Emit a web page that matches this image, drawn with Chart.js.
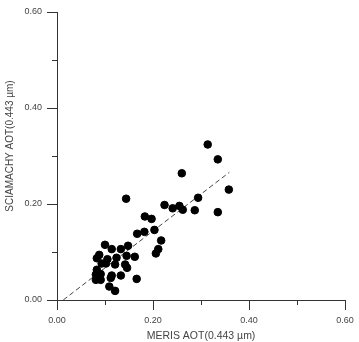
<!DOCTYPE html>
<html>
<head>
<meta charset="utf-8">
<script src="https://cdn.jsdelivr.net/npm/chart.js@4/dist/chart.umd.min.js"></script>
<style>
  html, body { margin: 0; padding: 0; background: #fff; }
  #wrap { width: 359px; height: 342px; }
</style>
</head>
<body>
<div id="wrap"><canvas id="scatterChart"></canvas></div>
<script>
// MERIS vs SCIAMACHY AOT at 0.443 um
const merisAot = [0.260, 0.144, 0.294, 0.224, 0.241, 0.255, 0.262, 0.287, 0.183, 0.197,
    0.203, 0.182, 0.167, 0.217, 0.211, 0.206, 0.100, 0.114, 0.133, 0.148,
    0.088, 0.083, 0.105, 0.124, 0.145, 0.162, 0.093, 0.102, 0.121, 0.142,
    0.146, 0.083, 0.081, 0.091, 0.081, 0.091, 0.114, 0.112, 0.133, 0.166,
    0.109, 0.121, 0.314, 0.335, 0.358, 0.335];
const sciaAot = [0.264, 0.211, 0.213, 0.198, 0.191, 0.196, 0.188, 0.187, 0.174, 0.169,
    0.146, 0.142, 0.138, 0.124, 0.106, 0.097, 0.115, 0.106, 0.106, 0.113,
    0.094, 0.087, 0.085, 0.088, 0.092, 0.090, 0.076, 0.076, 0.074, 0.074,
    0.067, 0.063, 0.053, 0.054, 0.042, 0.042, 0.051, 0.046, 0.051, 0.044,
    0.028, 0.019, 0.324, 0.293, 0.230, 0.183];
const fitX = [0.013, 0.359];
const fitY = [0.000, 0.266];
const tickLabels = ['0.00', '0.20', '0.40', '0.60'];
const xTitle = 'MERIS AOT(0.443 µm)';
const yTitle = 'SCIAMACHY AOT(0.443 µm)';

const axisColor = '#333';
const textColor = '#444';
const fontFamily = 'Liberation Sans, Arial, sans-serif';
const isMajor = v => Math.round(v * 10) % 2 === 0;

// short minor ticks at the odd tenths + the y axis title (sits a bit above centre)
const axisExtras = {
    id: 'axisExtras',
    afterDraw(chart) {
        const ctx = chart.ctx;
        const xs = chart.scales.x, ys = chart.scales.y;
        ctx.save();
        ctx.strokeStyle = axisColor;
        ctx.lineWidth = 1;
        ctx.beginPath();
        xs.ticks.forEach(t => {
            if (isMajor(t.value)) return;
            const px = Math.round(xs.getPixelForValue(t.value)) + 0.5;
            ctx.moveTo(px, xs.top);
            ctx.lineTo(px, xs.top + 5);
        });
        ys.ticks.forEach(t => {
            if (isMajor(t.value)) return;
            const py = Math.round(ys.getPixelForValue(t.value)) + 0.5;
            ctx.moveTo(ys.right, py);
            ctx.lineTo(ys.right - 5, py);
        });
        ctx.stroke();

        ctx.translate(10, (ys.top + ys.bottom) / 2 - 10);
        ctx.rotate(-Math.PI / 2);
        ctx.fillStyle = textColor;
        ctx.font = '10px ' + fontFamily;
        ctx.textAlign = 'center';
        ctx.textBaseline = 'middle';
        ctx.fillText(yTitle, 0, 0);
        ctx.restore();
    }
};

function axisOptions() {
    return {
        type: 'linear',
        min: 0,
        max: 0.6,
        border: { display: true, color: axisColor, width: 1 },
        grid: {
            drawOnChartArea: false,
            drawTicks: true,
            tickLength: 10,
            tickColor: c => isMajor(c.tick.value) ? axisColor : 'rgba(0,0,0,0)',
        },
        ticks: {
            stepSize: 0.1,
            autoSkip: false,
            maxRotation: 0,
            padding: 5,
            color: textColor,
            font: { family: fontFamily, size: 9 },
            callback: v => isMajor(v) ? tickLabels[Math.round(v * 5)] : '',
        },
    };
}

const xOpts = axisOptions();
xOpts.title = {
    display: true,
    text: xTitle,
    color: textColor,
    font: { family: fontFamily, size: 10.5 },
    padding: { top: 0, bottom: 0 },
};
xOpts.afterFit = s => { s.height = 42; };

const yOpts = axisOptions();
yOpts.afterFit = s => { s.width = 57; };

const ctx = document.getElementById('scatterChart').getContext('2d');
const chart = new Chart(ctx, {
    type: 'scatter',
    data: {
        datasets: [{
            label: 'AOT',
            data: merisAot.map((x, i) => ({ x, y: sciaAot[i] })),
            backgroundColor: '#000',
            borderColor: '#000',
            pointRadius: 3.8,
            pointHoverRadius: 3.8,
            order: 1,
        }, {
            type: 'line',
            label: 'fit',
            data: fitX.map((x, i) => ({ x, y: fitY[i] })),
            borderColor: '#444',
            borderWidth: 1,
            borderDash: [5, 3],
            pointRadius: 0,
            fill: false,
            order: 2,
        }],
    },
    options: {
        responsive: true,
        maintainAspectRatio: false,
        animation: false,
        layout: { padding: { top: 12, right: 14, left: 0, bottom: 0 } },
        scales: { x: xOpts, y: yOpts },
        plugins: { legend: { display: false }, tooltip: { enabled: false } },
    },
    plugins: [axisExtras],
});
</script>
</body>
</html>
